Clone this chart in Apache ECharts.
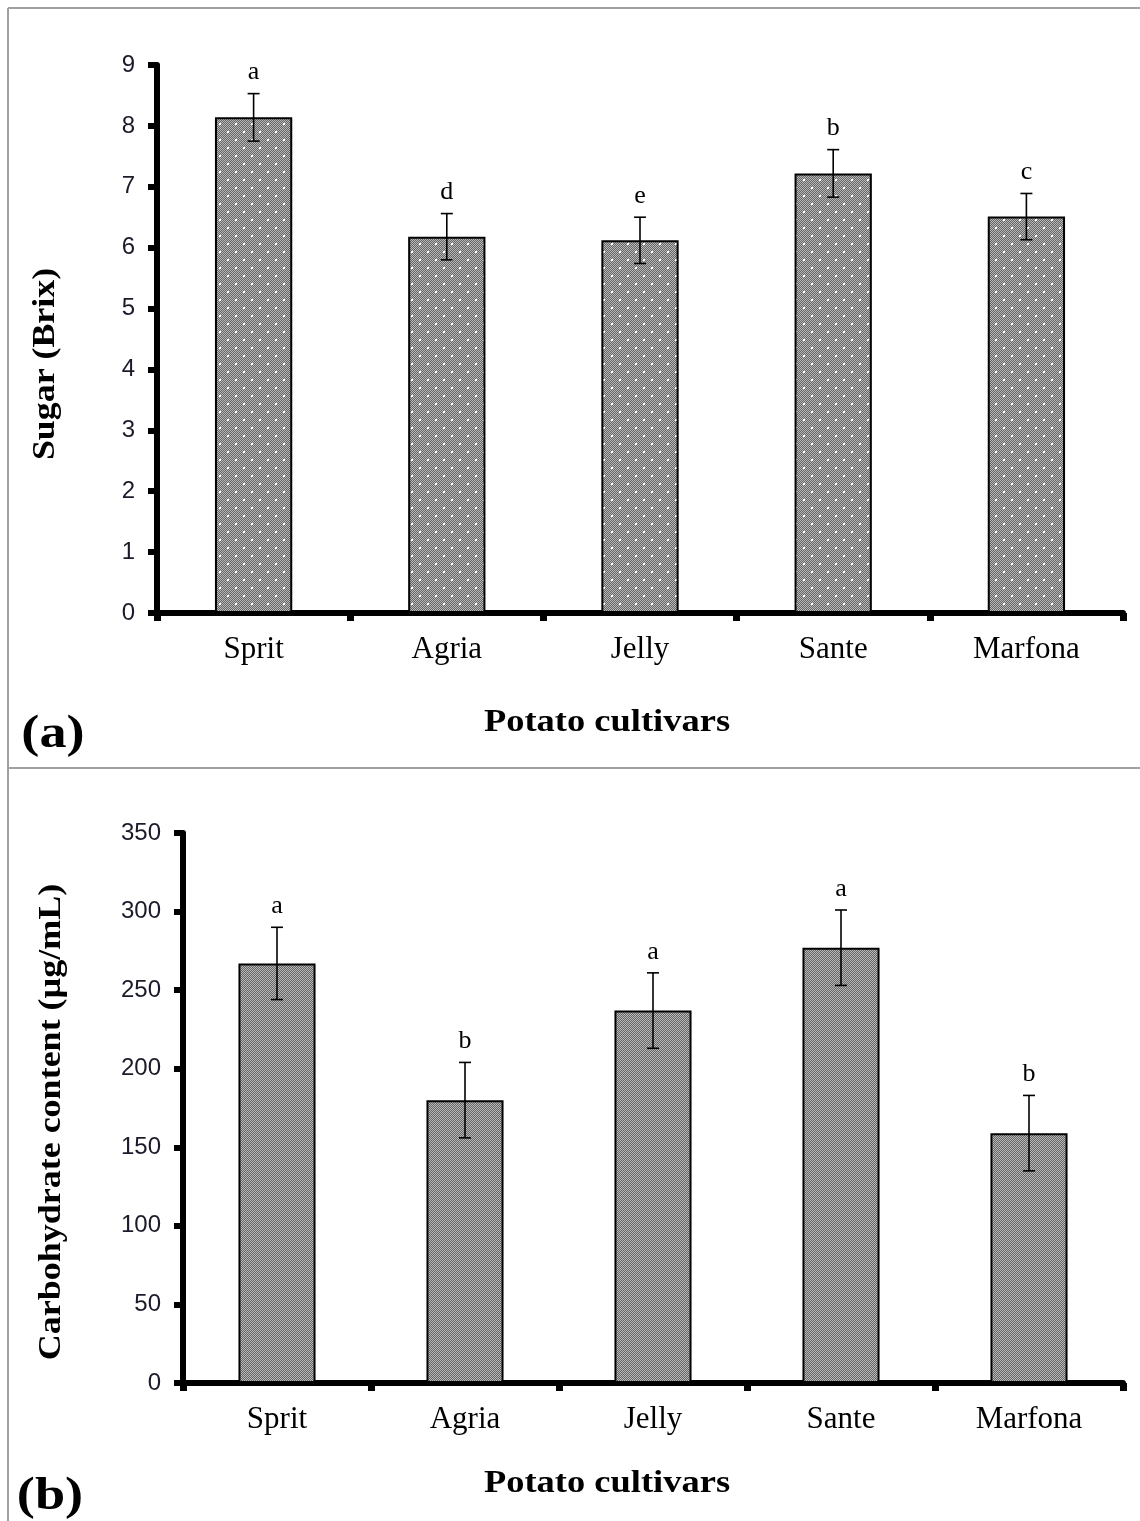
<!DOCTYPE html>
<html>
<head>
<meta charset="utf-8">
<script src="https://cdn.jsdelivr.net/npm/echarts@6/dist/echarts.min.js"></script>
<style>
  html, body { margin: 0; padding: 0; background: #fff; }
  #main { width: 1140px; height: 1521px; }
</style>
</head>
<body>
<div id="main"></div>
<script>
// data
var cultivars = ['Sprit', 'Agria', 'Jelly', 'Sante', 'Marfona'];
var sugar = [8.14, 6.18, 6.12, 7.22, 6.51];
var sugarErr = [0.39, 0.38, 0.38, 0.39, 0.38];
var sugarLetters = ['a', 'd', 'e', 'b', 'c'];
var carbo = [267, 180, 237, 277, 159];
var carboErr = [23, 24, 24, 24, 24];
var carboLetters = ['a', 'b', 'a', 'a', 'b'];

// hatch-like fills, like the old spreadsheet patterns
function makeTile(size, dots) {
  var c = document.createElement('canvas');
  c.width = size; c.height = size;
  var g = c.getContext('2d');
  for (var y = 0; y < size; y++) {
    for (var x = 0; x < size; x++) {
      g.fillStyle = (x + y) % 2 ? '#666666' : '#b8b8b8';
      g.fillRect(x, y, 1, 1);
    }
  }
  if (dots) {
    g.fillStyle = '#ffffff';
    g.fillRect(3, 3, 2, 2);
    g.fillRect(11, 11, 2, 2);
  }
  return c;
}

function errBars(vals, errs) {
  return vals.map(function (v, i) { return [i, v, errs[i]]; });
}

function errRender(letters) {
  return function (params, api) {
    var x = api.value(0), v = api.value(1), e = api.value(2);
    var top = api.coord([x, v + e]);
    var bot = api.coord([x, v - e]);
    var cap = 6;
    var st = { stroke: '#000', lineWidth: 1.6 };
    return {
      type: 'group',
      children: [
        { type: 'line', shape: { x1: top[0], y1: top[1], x2: bot[0], y2: bot[1] }, style: st },
        { type: 'line', shape: { x1: top[0] - cap, y1: top[1], x2: top[0] + cap, y2: top[1] }, style: st },
        { type: 'line', shape: { x1: bot[0] - cap, y1: bot[1], x2: bot[0] + cap, y2: bot[1] }, style: st },
        {
          type: 'text', x: top[0], y: top[1] - 8,
          style: {
            text: letters[params.dataIndex], align: 'center', verticalAlign: 'bottom',
            font: '26px "Liberation Serif"', fill: '#000'
          }
        }
      ]
    };
  };
}

var tickFont = { fontFamily: 'Liberation Sans', fontSize: 24, color: '#1a1a2a' };
var catFont = { fontFamily: 'Liberation Serif', fontSize: 31, color: '#000' };
var axLine = { show: true, lineStyle: { color: '#000', width: 6 } };

function xAx(gi) {
  return {
    type: 'category', gridIndex: gi, data: cultivars,
    axisLine: axLine,
    axisTick: { show: true, length: 8, lineStyle: { color: '#000', width: 7 } },
    axisLabel: Object.assign({ margin: 21 }, catFont),
    splitLine: { show: false }
  };
}
function yAx(gi, max, step) {
  return {
    type: 'value', gridIndex: gi, min: 0, max: max, interval: step,
    axisLine: axLine,
    axisTick: { show: true, length: 9, lineStyle: { color: '#000', width: 6 } },
    axisLabel: Object.assign({ margin: 22 }, tickFont),
    splitLine: { show: false }
  };
}

function title(txt, x, y, size, sx, rot) {
  return {
    type: 'text', x: x, y: y, rotation: rot || 0, scaleX: sx,
    style: { text: txt, align: 'center', verticalAlign: 'middle', font: 'bold ' + size + 'px "Liberation Serif"', fill: '#000' }
  };
}

var chart = echarts.init(document.getElementById('main'));
var option = {
  backgroundColor: '#fff',
  animation: false,
  grid: [
    { left: 157, top: 65, width: 966, height: 548, outerBoundsMode: 'none' },
    { left: 183, top: 833, width: 940, height: 550, outerBoundsMode: 'none' }
  ],
  xAxis: [xAx(0), xAx(1)],
  yAxis: [yAx(0, 9, 1), yAx(1, 350, 50)],
  series: [
    {
      type: 'bar', xAxisIndex: 0, yAxisIndex: 0, data: sugar, barWidth: '40%',
      itemStyle: { color: { image: makeTile(16, true), repeat: 'repeat' }, borderColor: '#000', borderWidth: 2 }
    },
    {
      type: 'custom', xAxisIndex: 0, yAxisIndex: 0, z: 5,
      data: errBars(sugar, sugarErr), renderItem: errRender(sugarLetters)
    },
    {
      type: 'bar', xAxisIndex: 1, yAxisIndex: 1, data: carbo, barWidth: '41%',
      itemStyle: { color: { image: makeTile(4, false), repeat: 'repeat' }, borderColor: '#000', borderWidth: 2 }
    },
    {
      type: 'custom', xAxisIndex: 1, yAxisIndex: 1, z: 5,
      data: errBars(carbo, carboErr), renderItem: errRender(carboLetters)
    }
  ],
  graphic: [
    // panel frames
    { type: 'line', shape: { x1: 8, y1: 8, x2: 1140, y2: 8 }, style: { stroke: '#a0a0a0', lineWidth: 2 } },
    { type: 'line', shape: { x1: 8, y1: 8, x2: 8, y2: 1521 }, style: { stroke: '#a0a0a0', lineWidth: 2 } },
    { type: 'line', shape: { x1: 8, y1: 768, x2: 1140, y2: 768 }, style: { stroke: '#a0a0a0', lineWidth: 2 } },
    // titles
    title('Sugar (Brix)', 46, 364, 32, 1.12, Math.PI / 2),
    title('Potato cultivars', 607, 723, 32, 1.14),
    title('(a)', 53, 735, 46, 1.18),
    title('Carbohydrate content (µg/mL)', 52, 1122, 32, 1.125, Math.PI / 2),
    title('Potato cultivars', 607, 1484, 32, 1.14),
    title('(b)', 50, 1497, 46, 1.18)
  ]
};
chart.setOption(option);
</script>
</body>
</html>
